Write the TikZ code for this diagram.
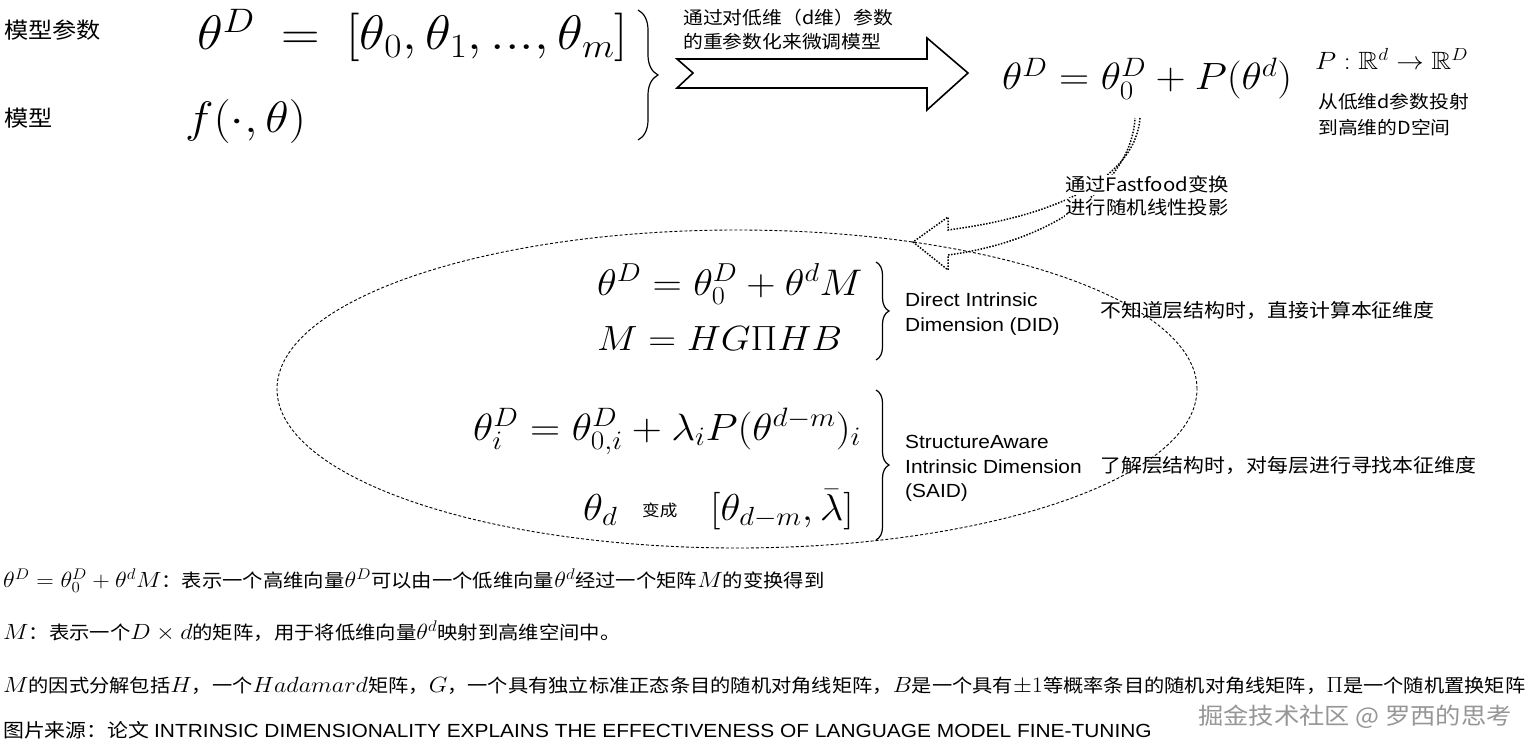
\RequirePackage{fix-cm}
\documentclass[tikz,border=0pt]{standalone}
\usepackage{amsmath,amssymb}
\usepackage{fontspec}
\newfontfamily\cjk{Noto Sans CJK SC}
\newfontfamily\arialf{Liberation Sans}
\usetikzlibrary{decorations.pathreplacing,shapes.geometric,calc}
\newcommand\fsz[1]{\fontsize{#1}{#1}\selectfont}
\newcommand\hsf{1.1}
\newcommand\hs[1]{\scalebox{\hsf}[1]{#1}}
\newcommand\mth[1]{{\fsz{22}$#1$}}
\definecolor{wmgray}{RGB}{150,150,150}
\tikzset{
  txt/.style={inner sep=0pt, anchor=base west},
  cjktxt/.style={txt, font=\cjk\fsz{#1}},
  mathtxt/.style={txt, font=\fsz{#1}},
  lattxt/.style={txt, font=\arialf\fsz{#1}},
  bracestyle/.style={decorate, decoration={brace, amplitude=#1}, line width=1.2pt},
  dashell/.style={draw, dash pattern=on 3pt off 2pt, line width=0.9pt},
  dotarrow/.style={dash pattern=on 1.5pt off 1.5pt, line width=1.5pt},
  blockarrow/.style={line width=1.6pt, line join=miter}
}
\begin{document}
\begin{tikzpicture}[x=1pt,y=-1pt]
\fill[white] (0,0) rectangle (1528,751);
\useasboundingbox (0,0) rectangle (1528,751);

% top-left
\node[cjktxt=22] (lblparam) at (4,39) {\hs{模型参数}};
\node[cjktxt=22] (lblmodel) at (4,127) {\hs{模型}};
\node[mathtxt=48.5] (thetaD) at (197,50) {\hs{$\theta^D\:=\:[\theta_0,\theta_1,...,\theta_m]$}};
\node[mathtxt=44] (fmodel) at (185,133) {\hs{$f(\cdot,\theta)$}};
\draw[bracestyle=20pt] (638,10) -- (638,140);

% block arrow
\coordinate (arrtail) at (677,73);
\coordinate (arrtip) at (968,73);
\draw[blockarrow] (677,59) -- (927,59) -- (927,38) -- (arrtip) -- (927,110) -- (927,88) -- (677,88) -- (693,73) -- cycle;
\node[cjktxt=18] (arrlbl1) at (683,25) {\hs{通过对低维（d维）参数}};
\node[cjktxt=18] (arrlbl2) at (683,49) {\hs{的重参数化来微调模型}};

% right formula
\node[mathtxt=38] (fmtop) at (1002,90) {\hs{$\theta^D=\theta_0^D+P(\theta^d)$}};
\node[mathtxt=25] (pmap) at (1315,70) {\hs{$P:\mathbb{R}^d\rightarrow\mathbb{R}^D$}};
\node[cjktxt=18] (proj1) at (1318,109) {\hs{从低维d参数投射}};
\node[cjktxt=18] (proj2) at (1318,135) {\hs{到高维的D空间}};

% ellipse group
\node[dashell, ellipse, minimum width=920pt, minimum height=318pt, inner sep=0pt] (said) at (737,389) {};

% dotted curved arrow
\coordinate (dotstart) at (1140,118);
\coordinate (dottip) at (913,242);
\draw[dotarrow] (dotstart) .. controls (1136,172) and (1070,214) .. (948,230) -- (948,217) -- (dottip) -- (948,270) -- (948,255) .. controls (1060,240) and (1132,180) .. (1135,118);
\node[cjktxt=18.5, anchor=base, fill=white, inner sep=1pt] (ff1) at (1147,192) {\hs{通过Fastfood变换}};
\node[cjktxt=18.5, anchor=base, fill=white, inner sep=1pt] (ff2) at (1147,215) {\hs{进行随机线性投影}};

% DID
\node[mathtxt=37] (did1) at (597,295) {\hs{$\theta^D=\theta_0^D+\theta^dM$}};
\node[mathtxt=35] (did2) at (597,350) {\hs{$M=HG\Pi HB$}};
\draw[bracestyle=13pt] (876,262) -- (876,360);
\node[lattxt=19] (didname1) at (905,306) {\hs{Direct Intrinsic}};
\node[lattxt=19] (didname2) at (905,331) {\hs{Dimension (DID)}};

% SAID
\node[mathtxt=38] (said1) at (473,440) {\hs{$\theta_i^D=\theta_{0,i}^D+\lambda_iP(\theta^{d-m})_i$}};
\node[mathtxt=37.5] (said2a) at (583,520) {\hs{$\theta_d$}};
\node[cjktxt=16] (said2b) at (642,516) {\hs{变成}};
\node[mathtxt=37.5] (said2c) at (710,520) {\hs{$[\theta_{d-m},\bar{\lambda}]$}};
\draw[bracestyle=13pt] (876,390) -- (876,540);
\node[lattxt=19] (saidname1) at (905,448) {\hs{StructureAware}};
\node[lattxt=19] (saidname2) at (905,473) {\hs{Intrinsic Dimension}};
\node[lattxt=19] (saidname3) at (905,497) {\hs{(SAID)}};

\node[cjktxt=19] (note1) at (1100,317) {\hs{不知道层结构时，直接计算本征维度}};
\node[cjktxt=19] (note2) at (1100,472) {\hs{了解层结构时，对每层进行寻找本征维度}};

% bottom explanations
\node[cjktxt=18.5] (expl1) at (3,587) {\hs{\mth{\theta^D=\theta_0^D+\theta^dM}：表示一个高维向量\mth{\theta^D}可以由一个低维向量\mth{\theta^d}经过一个矩阵\mth{M}的变换得到}};
\node[cjktxt=18.5] (expl2) at (3,639) {\hs{\mth{M}：表示一个\mth{D\times d}的矩阵，用于将低维向量\mth{\theta^d}映射到高维空间中。}};
\node[cjktxt=18.4] (expl3) at (3,692) {\hs{\mth{M}的因式分解包括\mth{H}，一个\mth{Hadamard}矩阵，\mth{G}，一个具有独立标准正态条目的随机对角线矩阵，\mth{B}是一个具有\mth{\pm1}等概率条目的随机对角线矩阵，\mth{\Pi}是一个随机置换矩阵}};
\node[cjktxt=19] (source) at (3,737) {\hs{图片来源：论文 {\arialf INTRINSIC DIMENSIONALITY EXPLAINS THE EFFECTIVENESS OF LANGUAGE MODEL FINE-TUNING}}};
\node[cjktxt=23, text=wmgray] (wm) at (1198,724) {\hs{掘金技术社区 @ 罗西的思考}};
\end{tikzpicture}
\end{document}
